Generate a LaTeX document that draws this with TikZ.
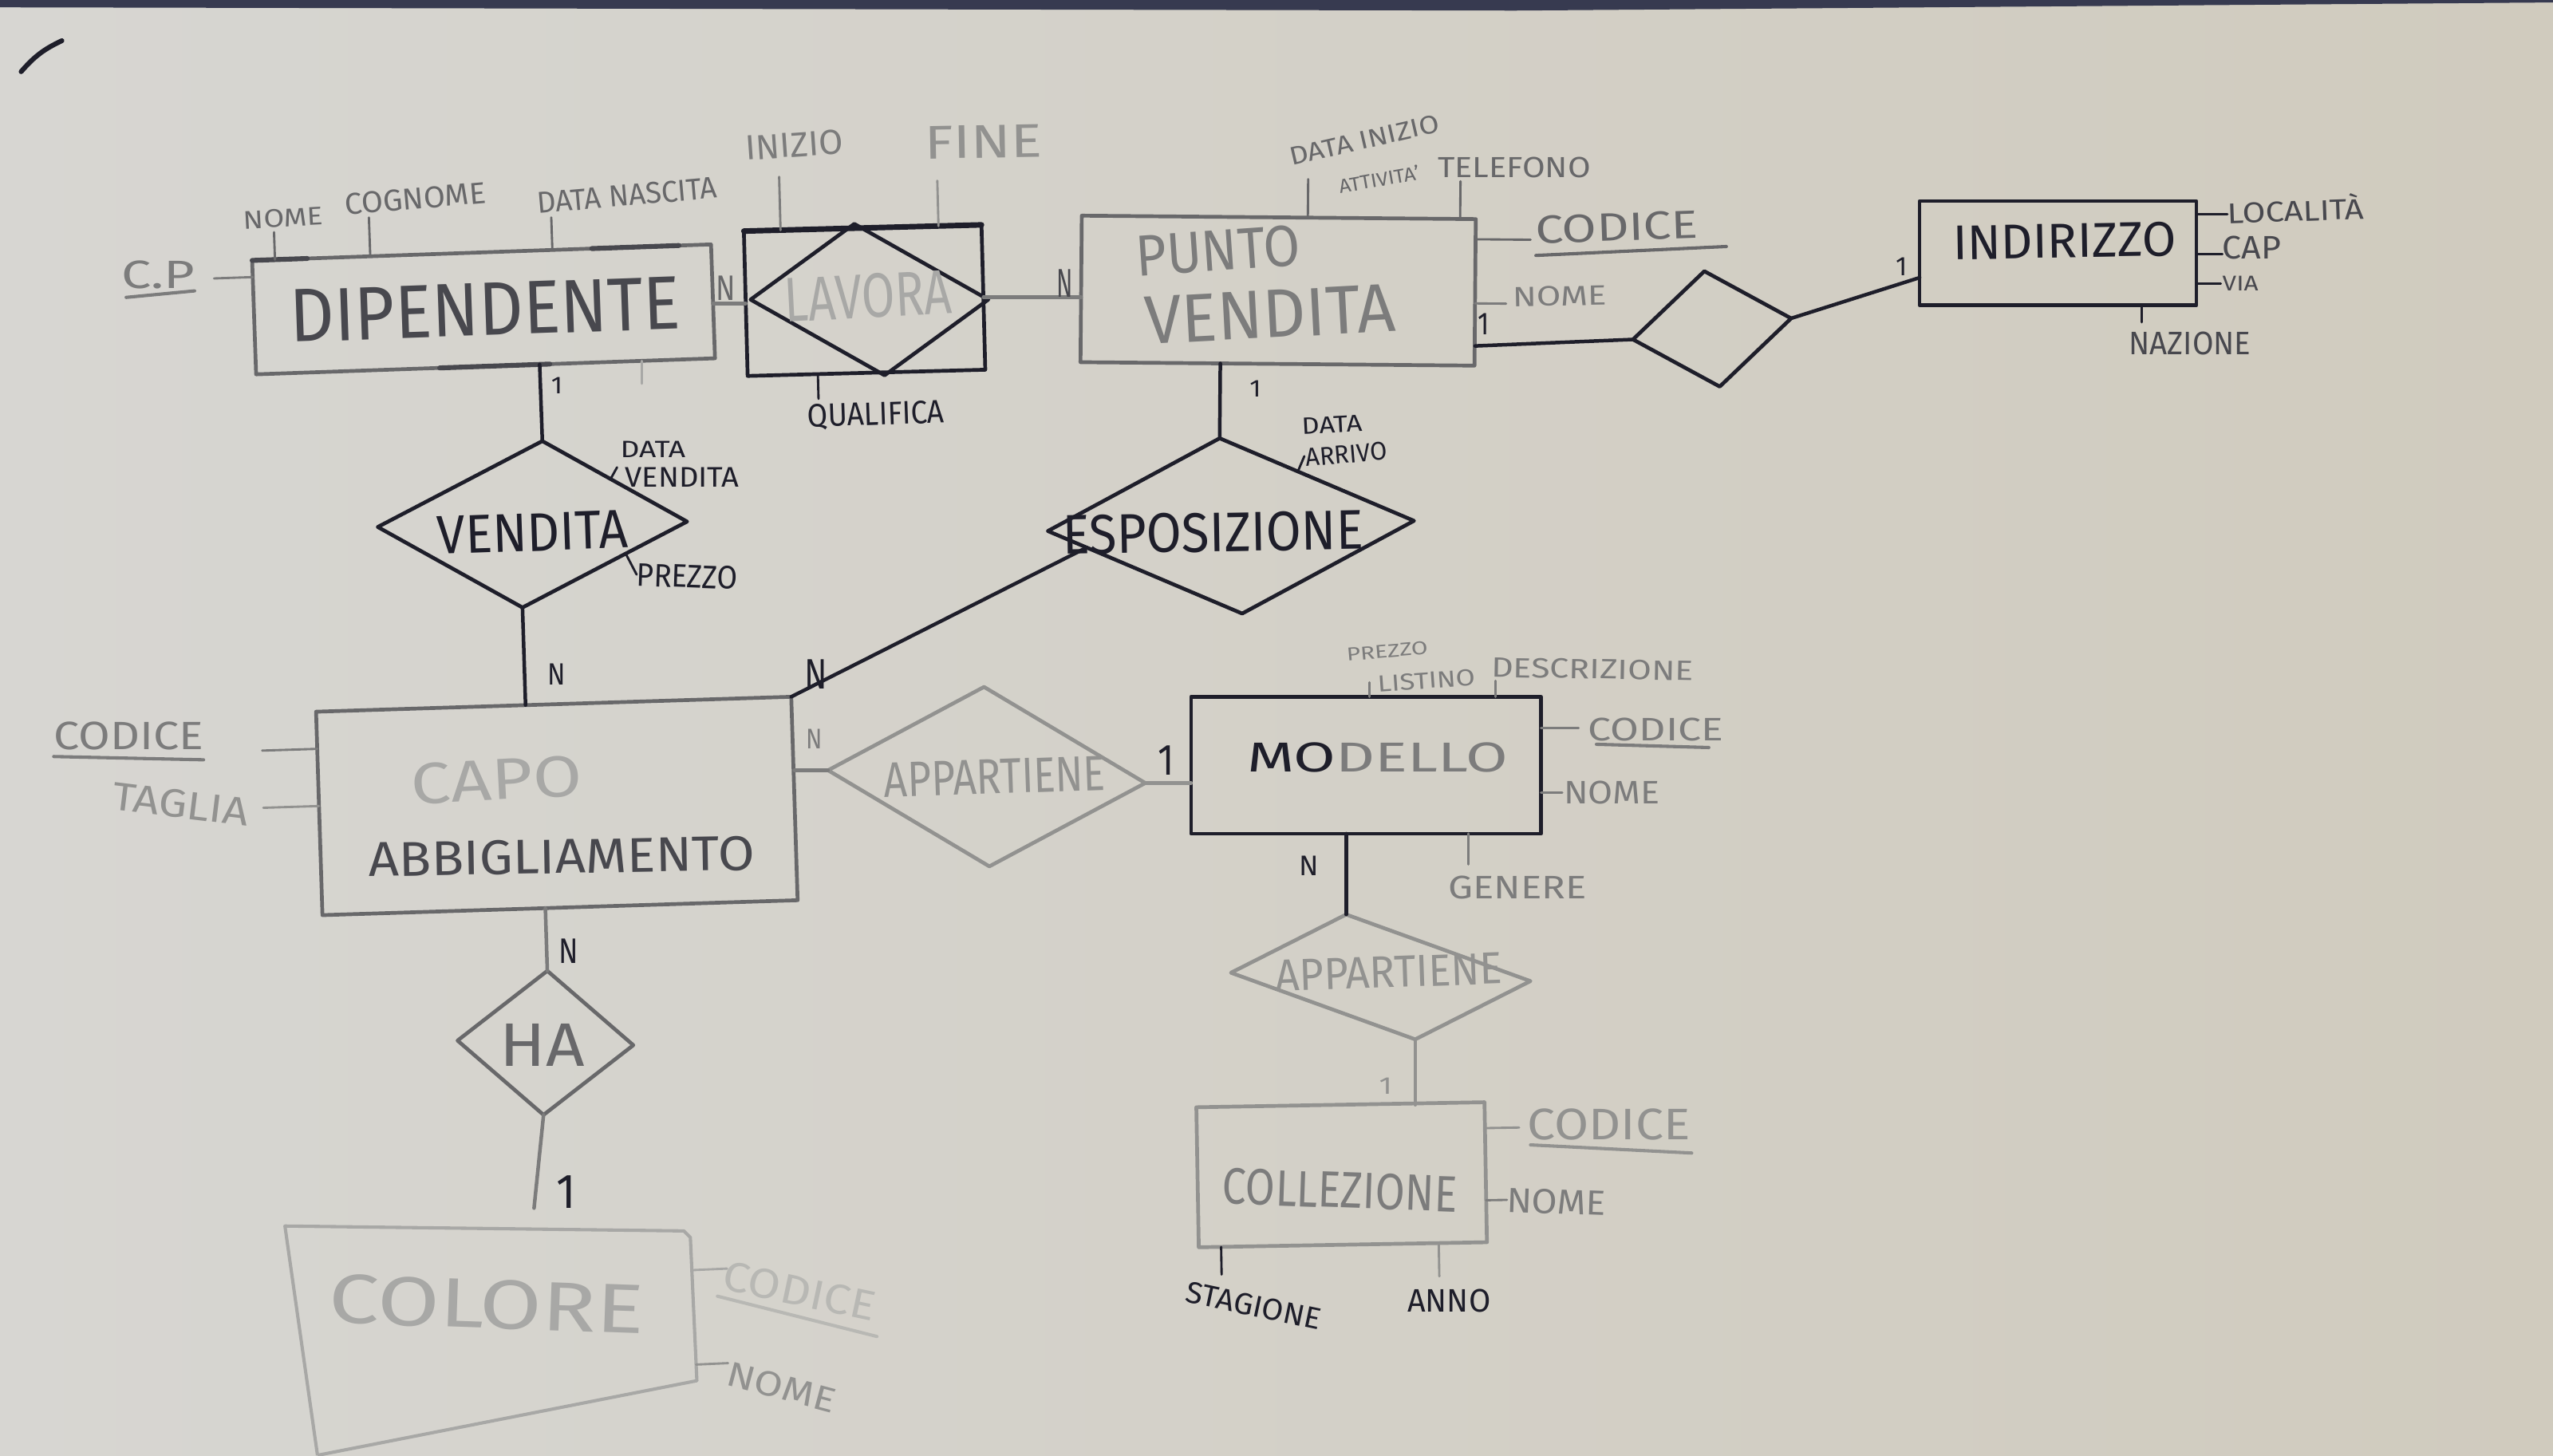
\documentclass[tikz,border=0pt]{standalone}
\usepackage{fontspec}
\setmainfont{Fira Sans}
\usepackage{graphicx}
\usetikzlibrary{shapes.geometric,calc}
\newlength\pu
\setlength\pu{0.2041mm}
\newcommand\hwt[3]{\resizebox{#1\pu}{#2\pu}{#3}}
\newcommand\attstub[4]{\draw[#1] (#2) -- ($(#3)!(#2)!(#4)$);}
\definecolor{bgL}{RGB}{215,214,210}
\definecolor{bgR}{RGB}{208,203,190}
\definecolor{inkK}{RGB}{30,30,42}
\definecolor{inkD}{RGB}{72,72,78}
\definecolor{inkG}{RGB}{104,104,106}
\definecolor{inkM}{RGB}{124,124,124}
\definecolor{inkL}{RGB}{146,146,144}
\definecolor{inkF}{RGB}{168,168,166}
\definecolor{inkX}{RGB}{184,184,180}
\definecolor{boardframe}{RGB}{55,58,80}
\tikzset{
  ent/.style={draw, rectangle, inner sep=0pt, outer sep=0pt, line width=2.3\pu, line join=round},
  rel/.style={draw, diamond, inner sep=0pt, outer sep=0pt, line width=2.3\pu, line join=round},
  lnk/.style={line width=2.2\pu, line cap=round},
  att/.style={line width=1.4\pu, line cap=round},
  ul/.style={line width=2\pu, line cap=round},
  lbl/.style={inner sep=0pt, outer sep=0pt},
}
\begin{document}
\begin{tikzpicture}[x=0.2041mm, y=-0.2041mm]
\useasboundingbox (0,0) rectangle (1568,893.8);
\shade[left color=bgL, right color=bgR] (0,0) rectangle (1568,893.8);
\fill[boardframe] (0,0) -- (1568,0) -- (1568,1.5) -- (930,6.5) -- (0,4.5) -- cycle;
\draw[inkK, line width=3\pu, line cap=round] (13,44) to[bend left=12] (38,25);

% ---------- entities and relationships ----------
\node[ent, draw=inkG, minimum width=282\pu, minimum height=70\pu, rotate=2] (dip) at (297,190) {};
\node[ent, draw=inkK, minimum width=146\pu, minimum height=89\pu, rotate=1.5] (lav) at (531,184.5) {};
\node[rel, draw=inkK, minimum width=146\pu, minimum height=93\pu, xslant=-0.2] (lavd) at (534,184) {};
\node[ent, draw=inkG, minimum width=242\pu, minimum height=90\pu, rotate=-0.5] (pv) at (785,178.5) {};
\node[rel, draw=inkK, minimum width=98\pu, minimum height=71.5\pu, rotate=7.6] (rel) at (1051.5,202) {};
\node[ent, draw=inkK, minimum width=170\pu, minimum height=64\pu] (ind) at (1264,155.5) {};
\node[rel, draw=inkK, minimum width=190\pu, minimum height=102\pu, rotate=1, xslant=0.137] (vend) at (327,322) {};
\node[rel, draw=inkK, minimum width=225\pu, minimum height=108\pu, rotate=1.6, xslant=-0.1] (espo) at (756,323) {};
\node[ent, draw=inkG, minimum width=292\pu, minimum height=125\pu, rotate=1.8] (capo) at (342,495) {};
\node[rel, draw=inkL, minimum width=195\pu, minimum height=110\pu, rotate=-2.3, xslant=-0.07] (app1) at (606,477) {};
\node[ent, draw=inkK, minimum width=215\pu, minimum height=84\pu] (mod) at (839,470) {};
\node[rel, draw=inkL, minimum width=184\pu, minimum height=75.5\pu, rotate=-1.6, xslant=-0.59] (app2) at (848,600) {};
\node[ent, draw=inkL, minimum width=177\pu, minimum height=86\pu, rotate=1] (coll) at (824,721.5) {};
\node[rel, draw=inkG, minimum width=108\pu, minimum height=88.5\pu, rotate=-1.5] (ha) at (335,640.5) {};
\coordinate (colNW) at (175,753);
\coordinate (colNE) at (420,756);
\coordinate (colNE2) at (424,760);
\coordinate (colSE) at (428,848);
\coordinate (colSW) at (195,893.8);
\draw[line width=2\pu, inkF, line join=round] (colSW) -- (colNW) -- (colNE) -- (colNE2) -- (colSE) -- (colSW);

% darker strokes
\draw[inkD, line width=3\pu, line cap=round] ($(dip.north west)!0.74!(dip.north east)$) -- ($(dip.north west)!0.93!(dip.north east)$);
\draw[inkD, line width=3\pu, line cap=round] (dip.north west) -- ($(dip.north west)!0.12!(dip.north east)$);
\draw[inkD, line width=3\pu, line cap=round] ($(dip.south west)!0.40!(dip.south east)$) -- ($(dip.south west)!0.64!(dip.south east)$);
\draw[inkK, line width=3.4\pu, line cap=round] (lav.north west) -- (lav.north east);

% ---------- names ----------
\node[lbl, text=inkD, rotate=2] (dipT) at (298,190) {\hwt{240}{32}{DIPENDENTE}};
\node[lbl, text=inkF, rotate=3] (lavT) at (533,182) {\hwt{103}{27}{LAVORA}};
\node[lbl, text=inkM, rotate=4] (pvT1) at (748,154) {\hwt{101}{25}{PUNTO}};
\node[lbl, text=inkM, rotate=3] (pvT2) at (780,193) {\hwt{154}{29}{VENDITA}};
\node[lbl, text=inkK, rotate=1] (indT) at (1268,148) {\hwt{137}{21}{INDIRIZZO}};
\node[lbl, text=inkK, rotate=2] (vendT) at (327,327) {\hwt{117}{23}{VENDITA}};
\node[lbl, text=inkK, rotate=1] (espoT) at (745,327) {\hwt{185}{24}{ESPOSIZIONE}};
\node[lbl, text=inkF, rotate=3] (capoT1) at (305,479) {\hwt{105}{25}{CAPO}};
\node[lbl, text=inkD, rotate=1] (capoT2) at (345,526) {\hwt{237}{21}{ABBIGLIAMENTO}};
\node[lbl, text=inkL, rotate=2] (app1T) at (611,477) {\hwt{136}{21}{APPARTIENE}};
\node[lbl] (modT) at (846,465) {\hwt{160}{18}{\color{inkK}MO\color{inkM}DELLO}};
\node[lbl, text=inkL, rotate=2] (app2T) at (853,597) {\hwt{139}{19}{APPARTIENE}};
\node[lbl, text=inkM, rotate=-2] (collT) at (823,731) {\hwt{144}{22}{COLLEZIONE}};
\node[lbl, text=inkG] (haT) at (333,642) {\hwt{52}{26}{HA}};
\node[lbl, text=inkF, rotate=-2] (colT) at (299,801) {\hwt{194}{30}{COLORE}};

% ---------- attributes: DIPENDENTE ----------
\node[lbl, text=inkM] (dipCP) at (97,169) {\hwt{45}{17}{C.P}};
\draw[ul, inkM] ([xshift=3\pu,yshift=-5\pu]dipCP.south west) -- ([yshift=-1\pu]dipCP.south east);
\coordinate (a1) at ([xshift=12\pu,yshift=-2\pu]dipCP.east);
\attstub{att,inkM}{a1}{dip.north west}{dip.south west}
\node[lbl, text=inkG, rotate=3] (dipNome) at (174,134) {\hwt{49}{11}{NOME}};
\coordinate (a2) at ([xshift=-6\pu,yshift=-3\pu]dipNome.south);
\attstub{att,inkG}{a2}{dip.north west}{dip.north east}
\node[lbl, text=inkG, rotate=5] (dipCog) at (255,122) {\hwt{87}{13}{COGNOME}};
\coordinate (a3) at ([xshift=-29\pu,yshift=-5\pu]dipCog.south);
\attstub{att,inkG}{a3}{dip.north west}{dip.north east}
\node[lbl, text=inkG, rotate=5] (dipDN) at (385,120) {\hwt{111}{13}{DATA NASCITA}};
\coordinate (a4) at ([xshift=-47\pu,yshift=-7\pu]dipDN.south);
\attstub{att,inkG}{a4}{dip.north west}{dip.north east}
\draw[att, inkF] ($(dip.south west)!0.84!(dip.south east)$) -- ++(0,14);

% ---------- attributes: LAVORA ----------
\node[lbl, text=inkM, rotate=4] (lavIni) at (488,89) {\hwt{60}{15}{INIZIO}};
\coordinate (a5) at ([xshift=-10\pu,yshift=-12\pu]lavIni.south);
\attstub{att,inkM}{a5}{lav.north west}{lav.north east}
\node[lbl, text=inkL, rotate=1] (lavFine) at (604,87) {\hwt{72}{20}{FINE}};
\coordinate (a6) at ([xshift=-28.5\pu,yshift=-14\pu]lavFine.south);
\attstub{att,inkL}{a6}{lav.north west}{lav.north east}
\node[lbl, text=inkK, rotate=2] (lavQual) at (538,255) {\hwt{84}{14}{QUALIFICA}};
\coordinate (a7) at ([xshift=-35\pu,yshift=2\pu]lavQual.north);
\attstub{att,inkK}{a7}{lav.south west}{lav.south east}

% ---------- attributes: PUNTO VENDITA ----------
\node[lbl, text=inkG, rotate=13] (pvDI1) at (838,86) {\hwt{94}{11}{DATA INIZIO}};
\node[lbl, text=inkG, rotate=10] (pvDI2) at (847,110) {\hwt{50}{9}{ATTIVITA'}};
\coordinate (a8) at ([xshift=10\pu,yshift=-8\pu]pvDI1.south west);
\attstub{att,inkG}{a8}{pv.north west}{pv.north east}
\node[lbl, text=inkG] (pvTel) at (930,103) {\hwt{94}{12.5}{TELEFONO}};
\coordinate (a9) at ([xshift=-33\pu,yshift=-2\pu]pvTel.south);
\attstub{att,inkG}{a9}{pv.north west}{pv.north east}
\node[lbl, text=inkG, rotate=2] (pvCod) at (993,139.5) {\hwt{100}{17}{CODICE}};
\draw[ul, inkG] ([yshift=-7\pu]pvCod.south west) -- ([xshift=17\pu,yshift=-5\pu]pvCod.south east);
\coordinate (a10) at ([xshift=-3\pu,yshift=-6\pu]pvCod.west);
\attstub{att,inkG}{a10}{pv.north east}{pv.south east}
\node[lbl, text=inkM, rotate=1] (pvNome) at (958,182) {\hwt{58}{12}{NOME}};
\coordinate (a11) at ([xshift=-4\pu,yshift=-4\pu]pvNome.west);
\attstub{att,inkM}{a11}{pv.north east}{pv.south east}

% ---------- attributes: INDIRIZZO ----------
\node[lbl, text=inkD, rotate=2] (indLoc) at (1410,128) {\hwt{84}{16}{LOCALITÀ}};
\coordinate (a12) at ([yshift=-2\pu]indLoc.west);
\attstub{att,inkK}{a12}{ind.north east}{ind.south east}
\node[lbl, text=inkD] (indCap) at (1383,152) {\hwt{36}{14}{CAP}};
\coordinate (a13) at ([yshift=-4\pu]indCap.west);
\attstub{att,inkK}{a13}{ind.north east}{ind.south east}
\node[lbl, text=inkD] (indVia) at (1376,174) {\hwt{22}{9}{VIA}};
\coordinate (a14) at ([xshift=-1\pu]indVia.west);
\attstub{att,inkK}{a14}{ind.north east}{ind.south east}
\node[lbl, text=inkD] (indNaz) at (1345,211) {\hwt{75}{14}{NAZIONE}};
\coordinate (a15) at ([xshift=-29.5\pu,yshift=6\pu]indNaz.north);
\attstub{att,inkK}{a15}{ind.south west}{ind.south east}

% ---------- attributes: VENDITA, ESPOSIZIONE ----------
\node[lbl, text=inkK] (vendDV1) at (401,276) {\hwt{40}{10}{DATA}};
\node[lbl, text=inkK] (vendDV2) at (419,293) {\hwt{70}{12}{VENDITA}};
\coordinate (a16) at ([xshift=-5\pu,yshift=6\pu]vendDV2.west);
\attstub{att,inkK}{a16}{vend.north}{vend.east}
\node[lbl, text=inkK, rotate=-2] (vendPrz) at (422,354) {\hwt{62}{14}{PREZZO}};
\coordinate (a17) at (vendPrz.west);
\attstub{att,inkK}{a17}{vend.east}{vend.south}
\node[lbl, text=inkK, rotate=3] (espoDA1) at (818,261) {\hwt{37}{10}{DATA}};
\node[lbl, text=inkK, rotate=5] (espoDA2) at (827,279) {\hwt{50}{11}{ARRIVO}};
\coordinate (a18) at ([xshift=-1\pu,yshift=1\pu]espoDA2.west);
\attstub{att,inkK}{a18}{espo.north}{espo.east}

% ---------- attributes: CAPO ABBIGLIAMENTO ----------
\node[lbl, text=inkM] (capoCod) at (79,452) {\hwt{92}{17}{CODICE}};
\draw[ul, inkM] ([yshift=-4\pu]capoCod.south west) -- ([yshift=-6\pu]capoCod.south east);
\coordinate (a19) at ([xshift=36\pu,yshift=-9\pu]capoCod.east);
\attstub{att,inkM}{a19}{capo.north west}{capo.south west}
\node[lbl, text=inkL, rotate=-7] (capoTag) at (111,494) {\hwt{84}{17}{TAGLIA}};
\coordinate (a20) at ([xshift=9\pu,yshift=3\pu]capoTag.east);
\attstub{att,inkL}{a20}{capo.north west}{capo.south west}

% ---------- attributes: MODELLO ----------
\node[lbl, text=inkM, rotate=5] (modPrz) at (852,400) {\hwt{50}{8}{PREZZO}};
\node[lbl, text=inkM, rotate=4] (modLis) at (876,418) {\hwt{60}{10}{LISTINO}};
\coordinate (a21) at ([xshift=-5\pu,yshift=1\pu]modLis.west);
\attstub{att,inkM}{a21}{mod.north west}{mod.north east}
\node[lbl, text=inkM, rotate=-1] (modDes) at (978,411) {\hwt{124}{12}{DESCRIZIONE}};
\coordinate (a22) at ([xshift=-59.6\pu,yshift=-1\pu]modDes.south);
\attstub{att,inkM}{a22}{mod.north west}{mod.north east}
\node[lbl, text=inkM] (modCod) at (1017,448) {\hwt{83}{14}{CODICE}};
\draw[ul, inkM] ([xshift=5\pu,yshift=-2\pu]modCod.south west) -- ([xshift=-9\pu,yshift=-4\pu]modCod.south east);
\coordinate (a23) at ([xshift=-6\pu,yshift=1\pu]modCod.west);
\attstub{att,inkM}{a23}{mod.north east}{mod.south east}
\node[lbl, text=inkM] (modNome) at (990,487) {\hwt{59}{14}{NOME}};
\coordinate (a24) at ([xshift=-1\pu]modNome.west);
\attstub{att,inkM}{a24}{mod.north east}{mod.south east}
\node[lbl, text=inkM] (modGen) at (932,545) {\hwt{85}{14}{GENERE}};
\coordinate (a25) at ([xshift=-30\pu,yshift=7\pu]modGen.north);
\attstub{att,inkM}{a25}{mod.south west}{mod.south east}

% ---------- attributes: COLLEZIONE ----------
\node[lbl, text=inkL] (collCod) at (988,690.5) {\hwt{100}{19}{CODICE}};
\draw[ul, inkL] ([xshift=2\pu,yshift=-3\pu]collCod.south west) -- ([xshift=1\pu,yshift=-8\pu]collCod.south east);
\coordinate (a26) at ([xshift=-5\pu,yshift=-2\pu]collCod.west);
\attstub{att,inkL}{a26}{coll.north east}{coll.south east}
\node[lbl, text=inkM, rotate=-2] (collNome) at (956,738) {\hwt{61}{15}{NOME}};
\coordinate (a27) at (collNome.west);
\attstub{att,inkM}{a27}{coll.north east}{coll.south east}
\node[lbl, text=inkK, rotate=-12] (collStg) at (770,802) {\hwt{84}{13}{STAGIONE}};
\coordinate (a28) at ([xshift=20\pu,yshift=4\pu]collStg.north west);
\attstub{att,inkK}{a28}{coll.south west}{coll.south east}
\node[lbl, text=inkK] (collAnno) at (890,799) {\hwt{51}{14}{ANNO}};
\coordinate (a29) at ([xshift=-6\pu,yshift=8\pu]collAnno.north);
\attstub{att,inkL}{a29}{coll.south west}{coll.south east}

% ---------- attributes: COLORE ----------
\node[lbl, text=inkX, rotate=-12] (colCod) at (491,793) {\hwt{95}{18}{CODICE}};
\draw[ul, inkX] ([xshift=-2\pu,yshift=-4\pu]colCod.south west) -- ([xshift=3\pu,yshift=-9\pu]colCod.south east);
\coordinate (a30) at ([xshift=2\pu,yshift=4\pu]colCod.west);
\attstub{att,inkF}{a30}{colNE2}{colSE}
\node[lbl, text=inkL, rotate=-15] (colNome) at (480,852) {\hwt{68}{15}{NOME}};
\coordinate (a31) at ([yshift=6\pu]colNome.west);
\attstub{att,inkL}{a31}{colNE2}{colSE}

% ---------- connectors and cardinalities ----------
\draw[lnk, inkM] (lav.west) -- (lav.west -| dip.east);
\node[lbl, text=inkG] (nDL) at (446,177) {\hwt{12}{15}{N}};
\draw[lnk, inkM] (lav.east) -- (lav.east -| pv.west);
\node[lbl, text=inkD] (nLP) at (654,174) {\hwt{10}{17}{N}};
\draw[lnk, inkK] (rel.west) -- ([yshift=-4\pu]rel.west -| pv.east);
\node[lbl, text=inkK] (oPR) at (911,199) {\hwt{7}{13}{1}};
\draw[lnk, inkK] (rel.east) -- ([yshift=-15\pu]ind.west);
\node[lbl, text=inkK] (oRI) at (1168,164) {\hwt{7}{11}{1}};
\draw[lnk, inkK] (vend.north) -- ($(dip.south west)!(vend.north)!(dip.south east)$);
\node[lbl, text=inkK] (oDV) at (342,237) {\hwt{7}{10}{1}};
\draw[lnk, inkK] (vend.south) -- ($(capo.north west)!(vend.south)!(capo.north east)$);
\node[lbl, text=inkK] (nVC) at (342,414) {\hwt{11}{13}{N}};
\draw[lnk, inkK] (espo.north) -- ($(pv.south west)!(espo.north)!(pv.south east)$);
\node[lbl, text=inkK] (oPE) at (771,239) {\hwt{7}{10}{1}};
\draw[lnk, inkK] ($(espo.west)!0.2!(espo.south)$) -- (capo.north east);
\node[lbl, text=inkK] (nEC) at (501,414) {\hwt{14}{18}{N}};
\draw[lnk, inkM] (app1.west) -- (app1.west -| capo.east);
\node[lbl, text=inkM] (nCA) at (500,454) {\hwt{10}{12}{N}};
\draw[lnk, inkL] (app1.east) -- (app1.east -| mod.west);
\node[lbl, text=inkK] (oAM) at (716,467) {\hwt{10}{18}{1}};
\draw[lnk, inkK] (app2.north) -- (app2.north |- mod.south);
\node[lbl, text=inkK] (nMA) at (804,532) {\hwt{12}{12}{N}};
\draw[lnk, inkL] (app2.south) -- (app2.south |- coll.north);
\node[lbl, text=inkL] (oAC) at (851,667) {\hwt{8}{10}{1}};
\draw[lnk, inkM] (ha.north) -- ($(capo.south west)!(ha.north)!(capo.south east)$);
\node[lbl, text=inkK] (nCH) at (349,584) {\hwt{12}{15}{N}};
\coordinate (colTop) at (328,742);
\draw[lnk, inkM] (ha.south) -- (colTop);
\node[lbl, text=inkK] (oHC) at (348,732) {\hwt{12}{20}{1}};
\end{tikzpicture}
\end{document}
